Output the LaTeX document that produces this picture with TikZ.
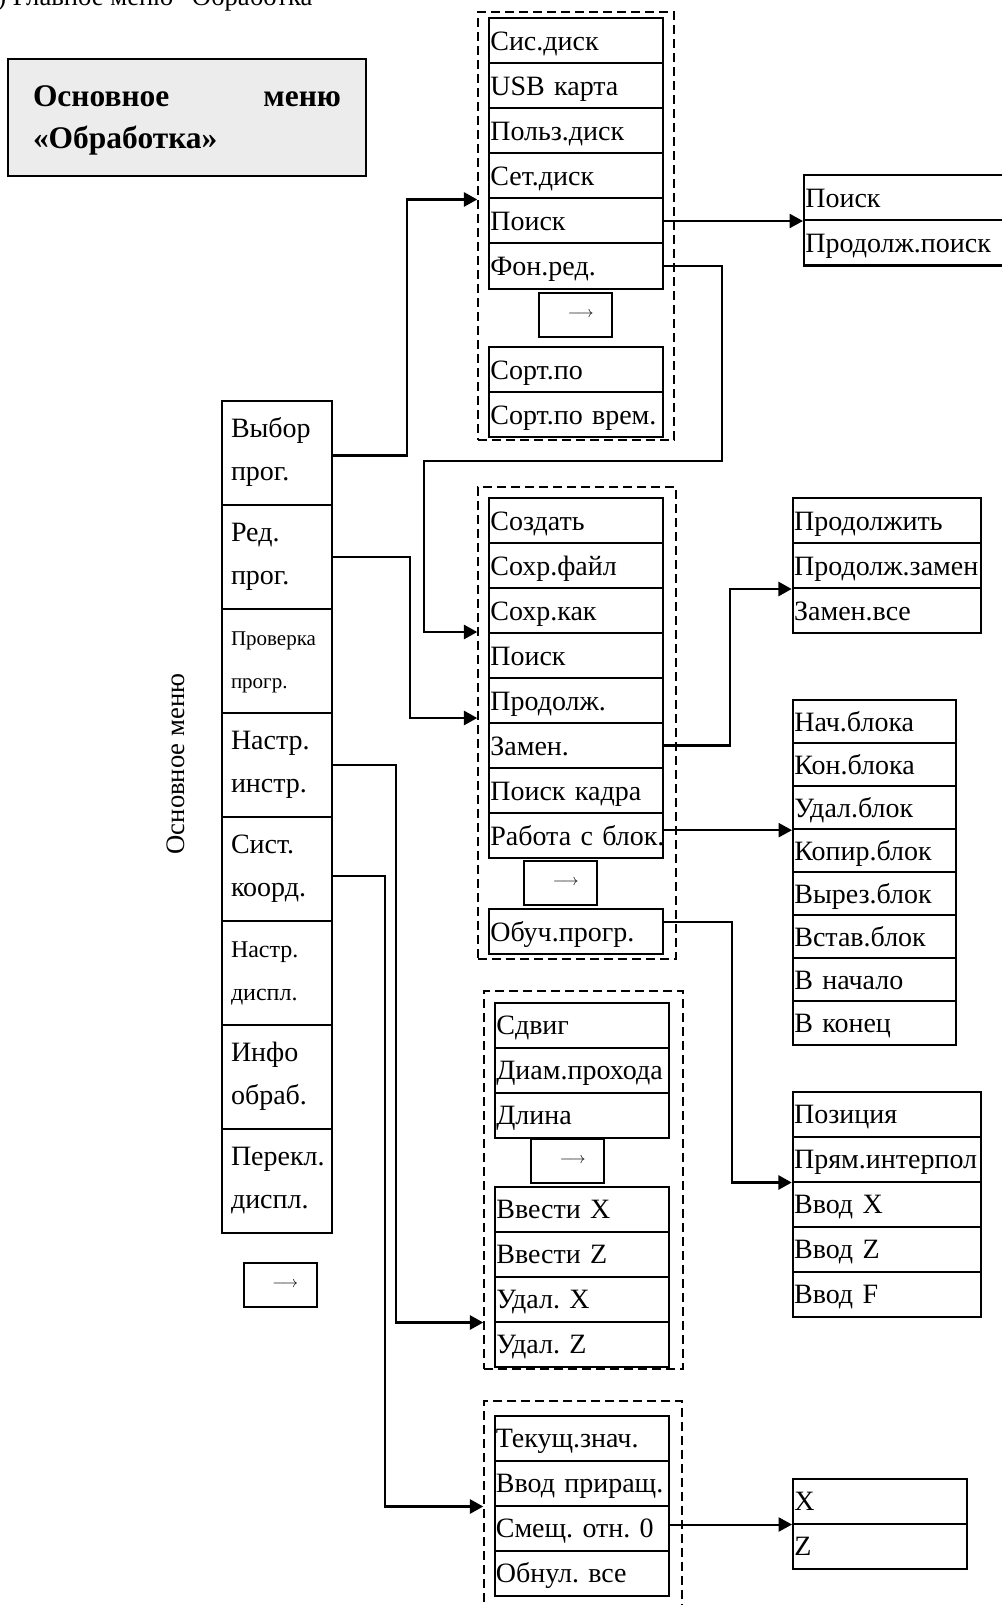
\documentclass[tikz,border=0pt]{standalone}
\usepackage{fontspec}
\setmainfont{Liberation Serif}
\usepackage{tikz}
\usetikzlibrary{positioning,arrows.meta}
\frenchspacing

\begin{document}
\begin{tikzpicture}[x=0.75pt,y=-0.75pt,
    every node/.style={on grid,node distance=33.75pt},
    >={Triangle[length=10pt,width=10.5pt]},
    item/.style={draw,line width=1.5pt,text width=#1,align=left,inner xsep=1pt,inner ysep=0pt,
      minimum height=33.75pt,text height=14.25pt,text depth=0pt,font=\fontsize{21pt}{25pt}\selectfont},
    item/.default=128.5pt,
    blk/.style={item=120.25pt,minimum height=32.3pt},
    mainbox/.style={draw,line width=1.5pt,text width=69pt,align=left,inner xsep=6.75pt,inner ysep=0pt,
      minimum height=78pt,text height=14.25pt,text depth=38.25pt,font=\fontsize{21pt}{32.25pt}\selectfont},
    nextbox/.style={draw,line width=1.5pt,minimum width=54.75pt,minimum height=33pt,inner sep=0pt,
      font=\fontsize{11.5pt}{12pt}\selectfont},
    dashframe/.style={draw,line width=1.1pt,dash pattern=on 6.5pt off 4pt,inner sep=0pt},
    conn/.style={->,line width=2pt},
    thinconn/.style={->,line width=1.5pt}]
    \useasboundingbox (0,0) rectangle (1002,1605);

    % caption and title
    \node[anchor=base west,inner sep=0pt,font=\fontsize{20pt}{20pt}\selectfont] (caption) at (-3,6) {) Главное меню “Обработка”};
    \node[draw,line width=1.5pt,fill=gray!15,minimum width=268.5pt,minimum height=87.75pt,text width=231pt,
      align=left,inner ysep=0pt,text height=15.75pt,text depth=31.5pt,
      font=\bfseries\fontsize{23.6pt}{31.5pt}\selectfont] (title) at (187,117.5) {Основное\hfill меню\\«Обработка»};

    % main menu
    \node[rotate=90,font=\fontsize{20pt}{20pt}\selectfont] (mainlabel) at (176,764) {Основное меню};
    \node[mainbox] (m1) at (277,453) {Выбор\\прог.};
    \node[mainbox,below=78pt of m1] (m2) {Ред.\\прог.};
    \node[mainbox,below=78pt of m2,font=\fontsize{15.75pt}{32.25pt}\selectfont] (m3) {Проверка\\прогр.};
    \node[mainbox,below=78pt of m3] (m4) {Настр.\\инстр.};
    \node[mainbox,below=78pt of m4] (m5) {Сист.\\коорд.};
    \node[mainbox,below=78pt of m5,font=\fontsize{18pt}{32.25pt}\selectfont] (m6) {Настр.\\диспл.};
    \node[mainbox,below=78pt of m6] (m7) {Инфо\\обраб.};
    \node[mainbox,below=78pt of m7] (m8) {Перекл.\\диспл.};
    \node[nextbox] (mnext) at (280,1284.5) {\hspace{8pt}$\longrightarrow$};

    % program selection
    \node[dashframe,minimum width=147pt,minimum height=321pt] (fframe) at (576,226) {};
    \node[item] (f1) at (576,41) {Сис.диск};
    \node[item,below=of f1] (f2) {USB~карта};
    \node[item,below=of f2] (f3) {Польз.диск};
    \node[item,below=of f3] (f4) {Сет.диск};
    \node[item,below=of f4] (f5) {Поиск};
    \node[item,below=of f5] (f6) {Фон.ред.};
    \node[nextbox] (fnext) at (575.5,314.5) {\hspace{8pt}$\longrightarrow$};
    \node[item] (f7) at (576,369.5) {Сорт.по};
    \node[item,below=of f7] (f8) {Сорт.по~врем.};

    \node[item=163pt] (r1a) at (914,198) {Поиск};
    \node[item=163pt,below=of r1a] (r1b) {Продолж.поиск};

    % program editing
    \node[dashframe,minimum width=148.5pt,minimum height=354pt] (eframe) at (577,723) {};
    \node[item] (e1) at (576,520.5) {Создать};
    \node[item,below=of e1] (e2) {Сохр.файл};
    \node[item,below=of e2] (e3) {Сохр.как};
    \node[item,below=of e3] (e4) {Поиск};
    \node[item,below=of e4] (e5) {Продолж.};
    \node[item,below=of e5] (e6) {Замен.};
    \node[item,below=of e6] (e7) {Поиск~кадра};
    \node[item,below=of e7] (e8) {Работа~с~блок.};
    \node[nextbox] (enext) at (560.5,883) {\hspace{8pt}$\longrightarrow$};
    \node[item] (e9) at (576,931.5) {Обуч.прогр.};

    \node[item=139.4pt] (r2a) at (887,520.5) {Продолжить};
    \node[item=139.4pt,below=of r2a] (r2b) {Продолж.замен};
    \node[item=139.4pt,below=of r2b] (r2c) {Замен.все};

    \node[blk] (b1) at (874.5,721.5) {Нач.блока};
    \node[blk,below=32.3pt of b1] (b2) {Кон.блока};
    \node[blk,below=32.3pt of b2] (b3) {Удал.блок};
    \node[blk,below=32.3pt of b3] (b4) {Копир.блок};
    \node[blk,below=32.3pt of b4] (b5) {Вырез.блок};
    \node[blk,below=32.3pt of b5] (b6) {Встав.блок};
    \node[blk,below=32.3pt of b6] (b7) {В~начало};
    \node[blk,below=32.3pt of b7] (b8) {В~конец};

    \node[item=139.4pt] (p1) at (887,1114) {Позиция};
    \node[item=139.4pt,below=of p1] (p2) {Прям.интерпол};
    \node[item=139.4pt,below=of p2] (p3) {Ввод~X};
    \node[item=139.4pt,below=of p3] (p4) {Ввод~Z};
    \node[item=139.4pt,below=of p4] (p5) {Ввод~F};

    % tool settings
    \node[dashframe,minimum width=149.25pt,minimum height=283.5pt] (tframe) at (583.5,1180) {};
    \node[item] (t1) at (582,1025) {Сдвиг};
    \node[item,below=of t1] (t2) {Диам.прохода};
    \node[item,below=of t2] (t3) {Длина};
    \node[nextbox] (tnext) at (567.5,1161) {\hspace{8pt}$\longrightarrow$};
    \node[item] (t4) at (582,1209) {Ввести~X};
    \node[item,below=of t4] (t5) {Ввести~Z};
    \node[item,below=of t5] (t6) {Удал.~X};
    \node[item,below=of t6] (t7) {Удал.~Z};

    % coordinate system
    \node[dashframe,minimum width=148.5pt,minimum height=168pt] (cframe) at (583,1513) {};
    \node[item] (c1) at (581.5,1438) {Текущ.знач.};
    \node[item,below=of c1] (c2) {Ввод~приращ.};
    \node[item,below=of c2] (c3) {Смещ.~отн.~0};
    \node[item,below=of c3] (c4) {Обнул.~все};

    \node[item] (xz1) at (880,1501) {X};
    \node[item,below=of xz1] (xz2) {Z};

    % connectors
    \draw[conn] ([yshift=-2pt]m1.east) -- ++(74,0) |- (fframe.west |- f4.south);
    \draw[conn] (m2.east) -- ++(77,0) |- (eframe.west |- 0,718);
    \draw[conn] (f6.east) -- ++(58,0) |- (424,461) |- (eframe.west |- 0,632);
    \draw[thinconn] (f5.east) -- (f5.east -| r1a.south west);
    \draw[conn] (e6.east) -- ++(66,0) |- (r2b.south west);
    \draw[thinconn] (e8.east |- b3.south west) -- (b3.south west);
    \draw[conn] ([yshift=-10.5pt]e9.north east) -- ++(68,0) |- (p2.south west);
    \draw[conn] (m4.east) -- ++(63,0) |- (tframe.west |- t6.south);
    \draw[conn] ([yshift=-5.25pt]m5.east) -- ++(52,0) |- (cframe.west |- c2.south);
    \draw[thinconn] (c3.east |- xz1.south west) -- (xz1.south west);
  \end{tikzpicture}
\end{document}
